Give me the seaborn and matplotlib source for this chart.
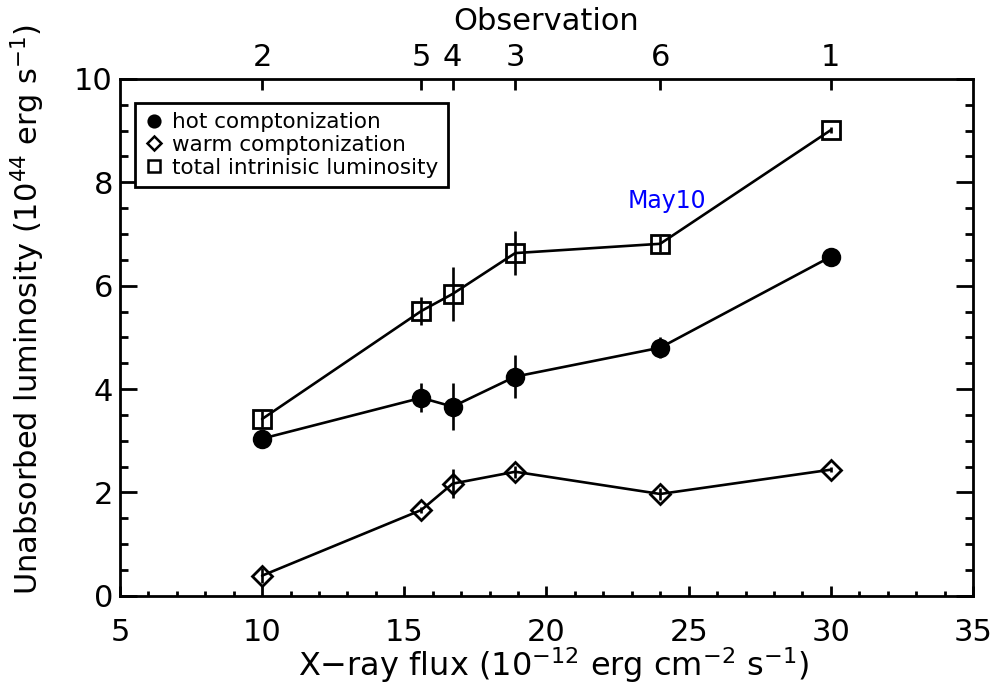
import numpy as np
import pandas as pd
import matplotlib
matplotlib.use("Agg")
import matplotlib.pyplot as plt
from matplotlib.lines import Line2D
from matplotlib.ticker import MultipleLocator
import seaborn as sns

# values
flux = [10.0, 15.6, 16.7, 18.9, 24.0, 30.0]
obs_labels = ["2", "5", "4", "3", "6", "1"]

hot = [3.04, 3.83, 3.66, 4.24, 4.80, 6.56]
hot_err = [0.05, 0.28, 0.45, 0.42, 0.20, 0.05]

warm = [0.39, 1.66, 2.17, 2.40, 1.97, 2.44]
warm_err = [0.15, 0.05, 0.28, 0.12, 0.12, 0.05]

total = [3.42, 5.51, 5.84, 6.63, 6.81, 9.01]
total_err = [0.15, 0.28, 0.52, 0.43, 0.15, 0.05]

sns.set_style("ticks")
plt.rcParams["font.family"] = ["DejaVu Sans"]
plt.rcParams["mathtext.default"] = "regular"
for key in ["text.color", "axes.labelcolor", "xtick.color", "ytick.color"]:
    plt.rcParams[key] = "black"

fig = plt.figure(figsize=(9.99, 6.92), dpi=100)
ax = fig.add_axes([0.120, 0.139, 0.854, 0.747])

series = [
    ("hot comptonization", hot, hot_err, "o", 12, "k"),
    ("warm comptonization", warm, warm_err, "D", 10, "none"),
    ("total intrinisic luminosity", total, total_err, "s", 12.5, "none"),
]

handles = []
for name, vals, err, mk, ms, fc in series:
    df = pd.DataFrame({"flux": flux, "lum": vals})
    sns.lineplot(data=df, x="flux", y="lum", ax=ax, color="k", lw=1.9,
                 marker=mk, markersize=ms, markerfacecolor=fc,
                 markeredgecolor="k", markeredgewidth=2, zorder=3)
    ax.errorbar(flux, vals, yerr=err, fmt="none", ecolor="k", elinewidth=1.9,
                capsize=0, zorder=2)
    handles.append(Line2D([], [], ls="none", marker=mk, color="k",
                          markerfacecolor=fc, markeredgewidth=1.8,
                          markersize=ms * 0.7, label=name))

ax.text(24.25, 7.64, "May10", color="blue", fontsize=17, ha="center", va="center")

ax.set_xlim(5, 35)
ax.set_ylim(0, 10)
ax.xaxis.set_major_locator(MultipleLocator(5))
ax.xaxis.set_minor_locator(MultipleLocator(1))
ax.yaxis.set_major_locator(MultipleLocator(2))
ax.yaxis.set_minor_locator(MultipleLocator(0.5))
ax.tick_params(axis="x", which="major", direction="in", length=7, width=2,
               labelsize=22, pad=16, bottom=True, top=False)
ax.tick_params(axis="x", which="minor", direction="in", length=3.5, width=2,
               bottom=True, top=False)
ax.tick_params(axis="y", which="major", direction="in", length=12, width=2,
               labelsize=22, pad=5, left=True, right=True)
ax.tick_params(axis="y", which="minor", direction="in", length=6, width=2,
               left=True, right=True)
for sp in ax.spines.values():
    sp.set_linewidth(2)
    sp.set_color("k")

ax.set_xlabel("X$-$ray flux (10$^{-12}$ erg cm$^{-2}$ s$^{-1}$)", fontsize=23)
ax.xaxis.set_label_coords(0.508, -0.095)
ax.set_ylabel("Unabsorbed luminosity (10$^{44}$ erg s$^{-1}$)", fontsize=22)
ax.yaxis.set_label_coords(-0.086, 0.553)

top = ax.twiny()
top.set_xlim(ax.get_xlim())
top.set_xticks(flux)
top.set_xticklabels(obs_labels)
top.tick_params(axis="x", direction="in", length=8, width=2, labelsize=22, pad=5)
top.set_xlabel("Observation", fontsize=22, labelpad=9)
for sp in top.spines.values():
    sp.set_visible(False)

leg = ax.legend(handles=handles, loc="upper left", bbox_to_anchor=(0.018, 0.954),
                borderaxespad=0, fontsize=15.5, frameon=True, fancybox=False,
                handlelength=0.8, handletextpad=0.45, labelspacing=0.12,
                borderpad=0.45)
leg.get_frame().set_edgecolor("k")
leg.get_frame().set_linewidth(2)
leg.get_frame().set_alpha(1)

fig.savefig("out.png", dpi=100)
